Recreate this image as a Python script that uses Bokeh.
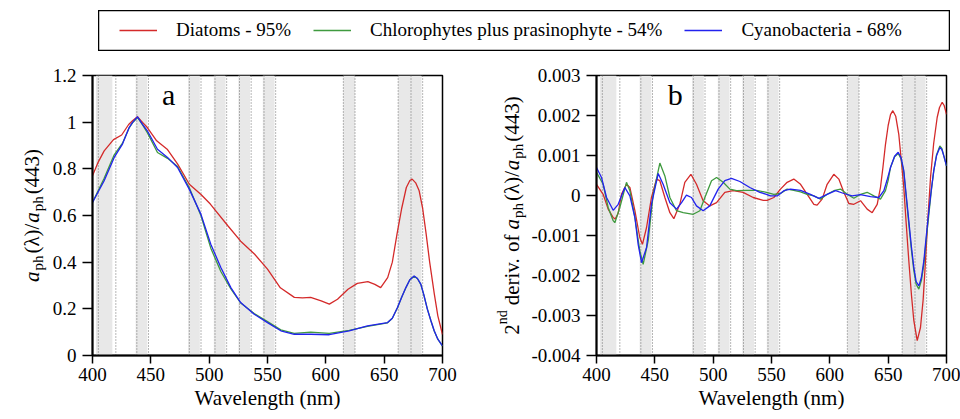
import numpy as np
from bokeh.plotting import figure
from bokeh.models import (Range1d, FixedTicker, Label, BoxAnnotation, Span,
                          Legend, LegendItem)
from bokeh.layouts import column, row
from bokeh.embed import file_html
from bokeh.resources import INLINE

FONT = "Liberation Serif"

series_names = ["Diatoms - 95%", "Chlorophytes plus prasinophyte - 54%", "Cyanobacteria - 68%"]
series_colors = ["#d42a2a", "#3f9a3f", "#2222ee"]

# ---------- panel a : normalised absorption ----------
wl_a_diat = [400, 405, 410, 418, 425, 431, 434.3, 438.5, 442.9, 447, 455, 464, 473, 483, 493,
             501, 516, 527, 539, 550, 561, 573, 580, 587, 596, 603, 610, 619, 627, 636, 642,
             647, 653, 657, 659, 661, 665, 669, 672, 674, 677, 680, 683, 686, 689, 693, 696, 700]
aph_diat = [0.77, 0.83, 0.877, 0.925, 0.945, 0.99, 1.006, 1.023, 0.999, 0.977, 0.92, 0.884,
            0.82, 0.734, 0.69, 0.649, 0.556, 0.49, 0.434, 0.37, 0.29, 0.249, 0.247, 0.249,
            0.234, 0.22, 0.241, 0.284, 0.309, 0.317, 0.305, 0.291, 0.334, 0.40, 0.46, 0.52,
            0.63, 0.72, 0.75, 0.756, 0.74, 0.706, 0.63, 0.52, 0.40, 0.263, 0.17, 0.09]

wl_a_chl = [400, 410, 418.6, 425.7, 431.4, 434.3, 438.6, 442.9, 447, 455.7, 464.3, 472.9, 482.9,
            492.9, 501.4, 510, 518.6, 527, 538.6, 550, 561.4, 572.9, 587, 602.9, 620, 635.7,
            652.9, 657, 661.4, 665, 668.6, 672, 675.7, 678.5, 681.4, 684, 687, 690, 692.9,
            696, 700]
aph_chl = [0.656, 0.76, 0.86, 0.91, 0.975, 0.997, 1.02, 0.988, 0.955, 0.87, 0.845, 0.81, 0.72,
           0.60, 0.46, 0.36, 0.285, 0.225, 0.18, 0.145, 0.11, 0.095, 0.10, 0.095, 0.108,
           0.125, 0.14, 0.16, 0.205, 0.25, 0.29, 0.325, 0.34, 0.33, 0.305, 0.26, 0.20, 0.15,
           0.105, 0.07, 0.04]

wl_a_cyano = [400, 410, 418.6, 425.7, 431.4, 434.3, 438.6, 442.9, 447, 455.7, 464.3, 472.9,
              482.9, 492.9, 501.4, 510, 518.6, 527, 538.6, 550, 561.4, 572.9, 587, 602.9, 620,
              635.7, 652.9, 657, 661.4, 665, 668.6, 672, 675.7, 678.5, 681.4, 684, 687, 690,
              692.9, 696, 700]
aph_cyano = [0.656, 0.749, 0.849, 0.906, 0.977, 0.999, 1.023, 0.991, 0.963, 0.884, 0.849,
             0.806, 0.713, 0.606, 0.477, 0.377, 0.291, 0.227, 0.177, 0.141, 0.106, 0.091,
             0.091, 0.089, 0.106, 0.127, 0.141, 0.16, 0.206, 0.25, 0.291, 0.325, 0.341, 0.33,
             0.306, 0.26, 0.199, 0.15, 0.106, 0.07, 0.041]

# ---------- panel b : second derivative (values in units of 1e-3) ----------
wl_b_diat = [400, 405.7, 410, 414.3, 416, 418.5, 421.4, 425.7, 428.6, 432.9, 437.1, 439.4,
             442.9, 447.1, 451.4, 454.3, 458.6, 462.9, 466.3, 471.4, 475.7, 480.9, 485.7,
             491.4, 497.1, 502.9, 510, 517.1, 525.7, 534.3, 542.9, 546.3, 552, 557.7, 563.4,
             569.1, 574.9, 580.6, 586.3, 589.1, 593.4, 597.7, 603.4, 607.7, 612, 616.3, 620.6,
             626.3, 632, 636.3, 640.6, 643.4, 645.5, 647.7, 650, 652, 654, 656.5, 659.1, 661,
             663.4, 665.5, 667.7, 670, 672, 674.9, 677.7, 680, 682, 684, 686.3, 689, 692, 694,
             696.3, 698, 700]
d2_diat_milli = [0.28, 0.03, -0.34, -0.55, -0.59, -0.45, 0.03, 0.28, 0.2, -0.38, -1.05, -1.22,
                 -0.8, -0.05, 0.41, 0.37, -0.05, -0.43, -0.58, -0.22, 0.33, 0.53, 0.28, -0.13,
                 -0.26, -0.18, 0.08, 0.12, 0.08, -0.05, -0.12, -0.12, -0.05, 0.16, 0.33, 0.41,
                 0.28, 0.03, -0.22, -0.24, -0.09, 0.28, 0.53, 0.41, 0.08, -0.2, -0.22, -0.13,
                 -0.34, -0.43, -0.22, 0.2, 0.7, 1.28, 1.75, 2.02, 2.12, 1.98, 1.53, 0.95, 0.2,
                 -0.72, -1.63, -2.5, -3.13, -3.63, -3.3, -2.6, -1.63, -0.6, 0.45, 1.3, 1.95, 2.2,
                 2.33, 2.25, 2.03]

wl_b_chl = [400, 405.7, 410, 414.3, 415.7, 420, 425.7, 428.6, 432.9, 437.1, 440, 444.3, 448.6,
            454.3, 458.6, 462.9, 468.6, 474.3, 482.9, 488.6, 492.9, 498.6, 502.9, 508.6, 514.3,
            520, 528.6, 537.1, 545.7, 552, 557.7, 563.4, 569.1, 574.9, 580.6, 586.3, 592,
            597.7, 603.4, 609.1, 614.9, 620.6, 626.3, 632, 637.7, 643.4, 647.7, 650, 652,
            655.5, 658.6, 661, 663.4, 665.5, 667.7, 670, 672, 674, 676.3, 678.5, 680.6, 682.7,
            684.9, 687, 689.1, 691.5, 694.3, 696, 697.7, 700]
d2_chl_milli = [0.58, 0.28, -0.3, -0.63, -0.68, -0.3, 0.33, 0.12, -0.55, -1.38, -1.72, -1.13,
                0.03, 0.81, 0.49, -0.05, -0.38, -0.43, -0.47, -0.38, -0.05, 0.37, 0.45, 0.33,
                0.16, 0.12, 0.13, 0.13, 0.08, 0.03, 0.05, 0.16, 0.13, 0.09, 0.03, -0.01, -0.09,
                0.03, 0.12, 0.16, 0.03, -0.07, 0.03, 0.08, -0.01, -0.09, 0.12, 0.38, 0.7, 0.97,
                1.05, 0.92, 0.58, -0.05, -0.72, -1.38, -1.88, -2.22, -2.34, -2.12, -1.72,
                -1.08, -0.47, 0.12, 0.62, 1.02, 1.24, 1.18, 0.99, 0.74]

wl_b_cyano = [400, 404.3, 408.6, 414.3, 418.6, 424.3, 428.6, 432.9, 435.7, 438.6, 442.9, 447.1,
              452.9, 457.1, 462.9, 468.6, 472.9, 477.1, 481.4, 485.7, 491.4, 497.1, 504.3, 510,
              515.7, 522.9, 531.4, 540, 545.7, 549.1, 554.9, 560.6, 566.3, 574.9, 583.4, 590.6,
              597.7, 604.9, 612, 619.1, 626.3, 634.9, 642, 646.3, 649, 652, 655.5, 658.6, 661,
              663.4, 665.5, 667.7, 670, 672, 674, 676.3, 678.5, 680.6, 682.7, 684.9, 687,
              689.1, 691.5, 694.3, 696, 697.7, 700]
d2_cyano_milli = [0.7, 0.45, -0.05, -0.37, -0.22, 0.2, -0.01, -0.55, -1.22, -1.68, -1.3, -0.22,
                  0.55, 0.28, -0.18, -0.34, -0.18, 0.01, -0.05, -0.26, -0.38, -0.26, 0.16, 0.37,
                  0.43, 0.35, 0.2, 0.08, 0.03, -0.01, -0.01, 0.12, 0.16, 0.13, 0.03, -0.07, 0.03,
                  0.12, 0.05, -0.01, 0.02, -0.03, -0.05, 0.12, 0.38, 0.7, 0.98, 1.08, 0.95, 0.62,
                  0.0, -0.63, -1.3, -1.8, -2.15, -2.26, -2.05, -1.63, -1.0, -0.38, 0.15, 0.62,
                  1.0, 1.2, 1.15, 0.99, 0.74]

# ---------- shaded bands and dotted reference wavelengths ----------
band_lo = [403, 437, 482, 504, 525, 546, 615, 662]
band_hi = [417, 447, 492, 514, 535, 556, 625, 682]
dotted_wl = [405, 420, 438, 448, 483, 493, 505, 515, 526, 536, 547, 557, 615, 625, 662, 673, 683]

x_ticks = [400, 450, 500, 550, 600, 650, 700]
a_ticks = [0, 0.2, 0.4, 0.6, 0.8, 1.0, 1.2]
a_tick_labels = ["0", "0.2", "0.4", "0.6", "0.8", "1", "1.2"]
b_ticks = [-0.004, -0.003, -0.002, -0.001, 0, 0.001, 0.002, 0.003]
b_tick_labels = ["-0.004", "-0.003", "-0.002", "-0.001", "0", "0.001", "0.002", "0.003"]

# Times-like advance widths (per 1000 em)
W = {' ': 250, '(': 333, ')': 333, '/': 278, '.': 250, 'a': 444, 'd': 500, 'e': 444,
     'f': 333, 'h': 500, 'i': 278, 'n': 500, 'o': 500, 'p': 500, 'r': 333, 'v': 500,
     'λ': 520, '2': 500, '3': 500, '4': 500}


def text_w(t, size, italic=False):
    if italic and t == "a":
        return 0.5 * size
    return sum(W.get(c, 500) for c in t) * size / 1000.0


FRAME_H = 280
FIG_H = 368


def make_panel(width, left, right, y_range, yticks, ylabels):
    p = figure(width=width, height=FIG_H, x_range=Range1d(400, 700), y_range=Range1d(*y_range),
               min_border_left=left, min_border_right=right, min_border_top=24,
               min_border_bottom=64, toolbar_location=None, output_backend="svg")
    p.grid.visible = False
    p.outline_line_color = "black"
    p.outline_line_width = 1.5
    p.xaxis.ticker = FixedTicker(ticks=x_ticks)
    p.yaxis.ticker = FixedTicker(ticks=yticks)
    p.yaxis.major_label_overrides = {t: l for t, l in zip(yticks, ylabels)}
    p.xaxis.axis_label = "Wavelength (nm)"
    for ax in list(p.xaxis) + list(p.yaxis):
        ax.axis_line_width = 2
        ax.axis_line_color = "black"
        ax.major_tick_in = 0
        ax.minor_tick_out = 0
        ax.minor_tick_in = 0
        ax.major_tick_line_width = 1.5
        ax.major_tick_line_color = "black"
        ax.major_label_text_font = FONT
        ax.major_label_text_font_size = "19px"
        ax.major_label_text_color = "black"
        ax.axis_label_text_font = FONT
        ax.axis_label_text_font_size = "21px"
        ax.axis_label_text_font_style = "normal"
        ax.axis_label_text_color = "black"
    p.xaxis.major_tick_out = 8
    p.xaxis.major_label_standoff = 4
    p.xaxis.axis_label_standoff = 2
    p.yaxis.major_tick_out = 10
    p.yaxis.major_label_standoff = 6
    for lo, hi in zip(band_lo, band_hi):
        p.add_layout(BoxAnnotation(left=lo, right=hi, fill_color="#e8e8e8", fill_alpha=1.0,
                                   line_alpha=0, level="underlay"))
    for w in dotted_wl:
        p.add_layout(Span(location=w, dimension="height", line_color="#6e6e6e",
                          line_width=1, line_dash="1 2", level="underlay"))
    return p


def label_strip(width, pieces, base_x):
    """Narrow figure carrying a rotated multi-part axis title (sub/superscripts)."""
    f = figure(width=width, height=FIG_H, x_range=Range1d(0, width), y_range=Range1d(0, FRAME_H),
               min_border_left=0, min_border_right=0, min_border_top=24, min_border_bottom=64,
               x_axis_location=None, y_axis_location=None, toolbar_location=None,
               output_backend="svg")
    f.grid.visible = False
    f.outline_line_color = None
    total = sum(text_w(t, s, st == "italic") + g for t, s, st, dx, g in pieces)
    pos = FRAME_H / 2.0 - total / 2.0
    for t, s, st, dx, g in pieces:
        pos += g
        f.add_layout(Label(x=base_x + dx, y=pos, text=t, angle=np.pi / 2, text_font=FONT,
                           text_font_size=f"{s}px", text_font_style=st, text_color="black",
                           text_align="left", text_baseline="alphabetic"))
        pos += text_w(t, s, st == "italic")
    return f


# ---------- legend strip ----------
leg = figure(width=852, height=41, x_range=Range1d(0, 1), y_range=Range1d(0, 1),
             x_axis_location=None, y_axis_location=None, toolbar_location=None,
             output_backend="svg", min_border=0, margin=(10, 0, 0, 98))
leg.grid.visible = False
leg.outline_line_color = "black"
leg.outline_line_width = 1.5
# same series drawn outside this strip's range: only their legend glyphs show
dummy = [leg.line(wl, v, line_color=c, line_width=1.3)
         for wl, v, c in [(wl_a_diat, aph_diat, series_colors[0]),
                          (wl_a_chl, aph_chl, series_colors[1]),
                          (wl_a_cyano, aph_cyano, series_colors[2])]]
legend = Legend(items=[LegendItem(label=n, renderers=[r]) for n, r in zip(series_names, dummy)],
                orientation="horizontal", location=(21, 10), padding=0, margin=0, spacing=22,
                label_standoff=19, glyph_width=38, glyph_height=20, label_height=20,
                border_line_alpha=0, background_fill_alpha=0,
                label_text_font=FONT, label_text_font_size="19px", label_text_color="black")
leg.add_layout(legend)

# ---------- panel a ----------
ya = (0, 1.2)
la = label_strip(48, [("a", 21, "italic", 0, 0), ("ph", 15, "normal", 6, 1),
                      ("(λ)/", 21, "normal", 0, 2), ("a", 21, "italic", 0, 0),
                      ("ph", 15, "normal", 6, 1), ("(443)", 21, "normal", 0, 2)], 31.5)
pa = make_panel(424, 44, 30, ya, a_ticks, a_tick_labels)
for wl, v, c in [(wl_a_diat, aph_diat, series_colors[0]),
                 (wl_a_chl, aph_chl, series_colors[1]),
                 (wl_a_cyano, aph_cyano, series_colors[2])]:
    pa.line(wl, v, line_color=c, line_width=1.3)
pa.add_layout(Label(x=459.5, y=1.05, text="a", text_font=FONT, text_font_size="30px",
                    text_color="black"))

# ---------- panel b ----------
yb = (-0.004, 0.003)
lb = label_strip(56, [("2", 21, "normal", 0, 0), ("nd", 14, "normal", -9, 0),
                      ("deriv.", 21, "normal", 0, 5), ("of", 21, "normal", 0, 5),
                      ("a", 21, "italic", 0, 5), ("ph", 15, "normal", 6, 1),
                      ("(λ)/", 21, "normal", 0, 2), ("a", 21, "italic", 0, 0),
                      ("ph", 15, "normal", 6, 1), ("(443)", 21, "normal", 0, 2)], 39)
pb = make_panel(432, 68, 14, yb, b_ticks, b_tick_labels)
for wl, v, c in [(wl_b_diat, d2_diat_milli, series_colors[0]),
                 (wl_b_chl, d2_chl_milli, series_colors[1]),
                 (wl_b_cyano, d2_cyano_milli, series_colors[2])]:
    pb.line(wl, np.array(v) * 1e-3, line_color=c, line_width=1.3)
pb.add_layout(Label(x=461, y=0.00212, text="b", text_font=FONT, text_font_size="30px",
                    text_color="black"))

layout = column(leg, row(la, pa, lb, pb, spacing=0), spacing=0)
open("out.html", "w").write(file_html(layout, INLINE))
